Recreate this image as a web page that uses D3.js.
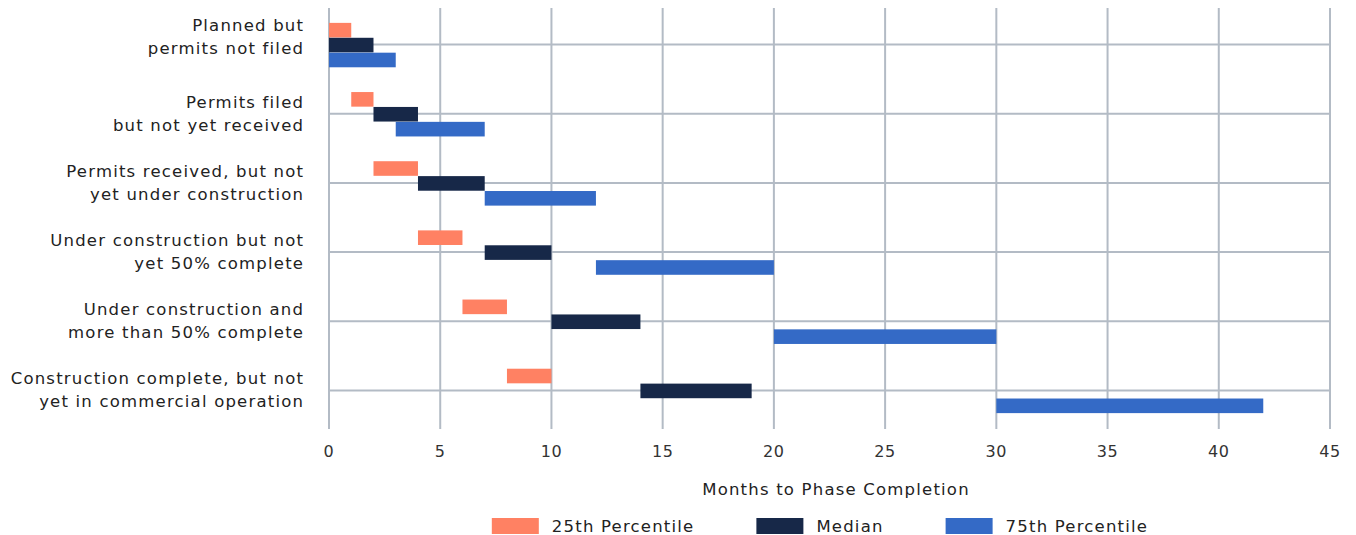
<!DOCTYPE html>
<html>
<head>
<meta charset="utf-8">
<script src="https://cdnjs.cloudflare.com/ajax/libs/d3/7.8.5/d3.min.js"></script>
<style>
  html, body { margin: 0; padding: 0; background: #fff; }
  svg { display: block; font-family: "DejaVu Sans", "Noto Sans", sans-serif; }
</style>
</head>
<body>
<svg id="chart" width="1356" height="535"></svg>
<script>
// ---- Data ----
const categories = [
  ["Planned but", "permits not filed"],
  ["Permits filed", "but not yet received"],
  ["Permits received, but not", "yet under construction"],
  ["Under construction but not", "yet 50% complete"],
  ["Under construction and", "more than 50% complete"],
  ["Construction complete, but not", "yet in commercial operation"]
];
const seriesNames = ["25th Percentile", "Median", "75th Percentile"];
const seriesColors = ["#FF8163", "#172848", "#346AC6"];
// [start, end] in months for each category
const p25 = [[0, 1], [1, 2], [2, 4], [4, 6], [6, 8], [8, 10]];
const median = [[0, 2], [2, 4], [4, 7], [7, 10], [10, 14], [14, 19]];
const p75 = [[0, 3], [3, 7], [7, 12], [12, 20], [20, 30], [30, 42]];
const xTicks = [0, 5, 10, 15, 20, 25, 30, 35, 40, 45];
const xTitle = "Months to Phase Completion";

const seriesData = [p25, median, p75];

// ---- Layout ----
const svg = d3.select("#chart");
const margin = { left: 329, right: 26, top: 10, bottom: 110 };
const W = 1356, H = 535;
const plotW = W - margin.left - margin.right;
const plotH = H - margin.top - margin.bottom;
const fontSize = 16.5;
const ls = 1.2; // letter spacing

const x = d3.scaleLinear().domain([0, 45]).range([margin.left, margin.left + plotW]);
const y = d3.scaleBand().domain(d3.range(categories.length))
  .range([margin.top, margin.top + plotH]).padding(0);
const sub = d3.scaleBand().domain(d3.range(3)).range([-22, 23]).padding(0.02);

const gridColor = "#B3BBC5";

// vertical grid lines (with small tick extension below)
svg.append("g").selectAll("line").data(xTicks).join("line")
  .attr("x1", d => x(d)).attr("x2", d => x(d))
  .attr("y1", margin.top - 2).attr("y2", margin.top + plotH + 4)
  .attr("stroke", gridColor).attr("stroke-width", 2);

// horizontal grid lines at category centers
svg.append("g").selectAll("line").data(categories).join("line")
  .attr("x1", margin.left).attr("x2", margin.left + plotW)
  .attr("y1", (d, i) => y(i) + y.bandwidth() / 2)
  .attr("y2", (d, i) => y(i) + y.bandwidth() / 2)
  .attr("stroke", gridColor).attr("stroke-width", 2);

// bars
seriesData.forEach((data, s) => {
  svg.append("g").selectAll("rect").data(data).join("rect")
    .attr("x", d => x(d[0]))
    .attr("width", d => x(d[1]) - x(d[0]))
    .attr("y", (d, i) => y(i) + y.bandwidth() / 2 + sub(s))
    .attr("height", sub.bandwidth())
    .attr("fill", seriesColors[s]);
});

// x tick labels
svg.append("g").selectAll("text").data(xTicks).join("text")
  .attr("x", d => x(d)).attr("y", margin.top + plotH + 32)
  .attr("text-anchor", "middle")
  .attr("font-size", 16).attr("letter-spacing", 0.6).attr("fill", "#333")
  .text(d => d);

// category labels
const catG = svg.append("g");
categories.forEach((lines, i) => {
  const c = y(i) + y.bandwidth() / 2;
  const base = i === 0 ? c - 14 : c - 6; // first label is kept inside the canvas
  lines.forEach((ln, j) => {
    catG.append("text")
      .attr("x", margin.left - 26 + ls).attr("y", base + j * 23)
      .attr("text-anchor", "end")
      .attr("font-size", fontSize).attr("letter-spacing", ls).attr("fill", "#222")
      .text(ln);
  });
});

// axis title
svg.append("text")
  .attr("x", 836).attr("y", 495)
  .attr("text-anchor", "middle")
  .attr("font-size", fontSize).attr("letter-spacing", ls).attr("fill", "#222")
  .text(xTitle);

// legend
const legend = svg.append("g");
const swW = 47, swH = 16, swGap = 13, itemGap = 62;
let cx = 0;
const items = [];
seriesNames.forEach((name, i) => {
  const g = legend.append("g");
  g.append("rect").attr("x", 0).attr("y", -swH / 2).attr("width", swW).attr("height", swH)
    .attr("fill", seriesColors[i]);
  const t = g.append("text").attr("x", swW + swGap).attr("y", 6)
    .attr("font-size", fontSize).attr("letter-spacing", ls).attr("fill", "#222")
    .text(name);
  const w = swW + swGap + t.node().getComputedTextLength();
  items.push({ g, w });
});
const totalW = d3.sum(items, d => d.w) + itemGap * (items.length - 1);
cx = 820 - totalW / 2;
items.forEach(it => {
  it.g.attr("transform", `translate(${cx},526)`);
  cx += it.w + itemGap;
});
</script>
</body>
</html>
